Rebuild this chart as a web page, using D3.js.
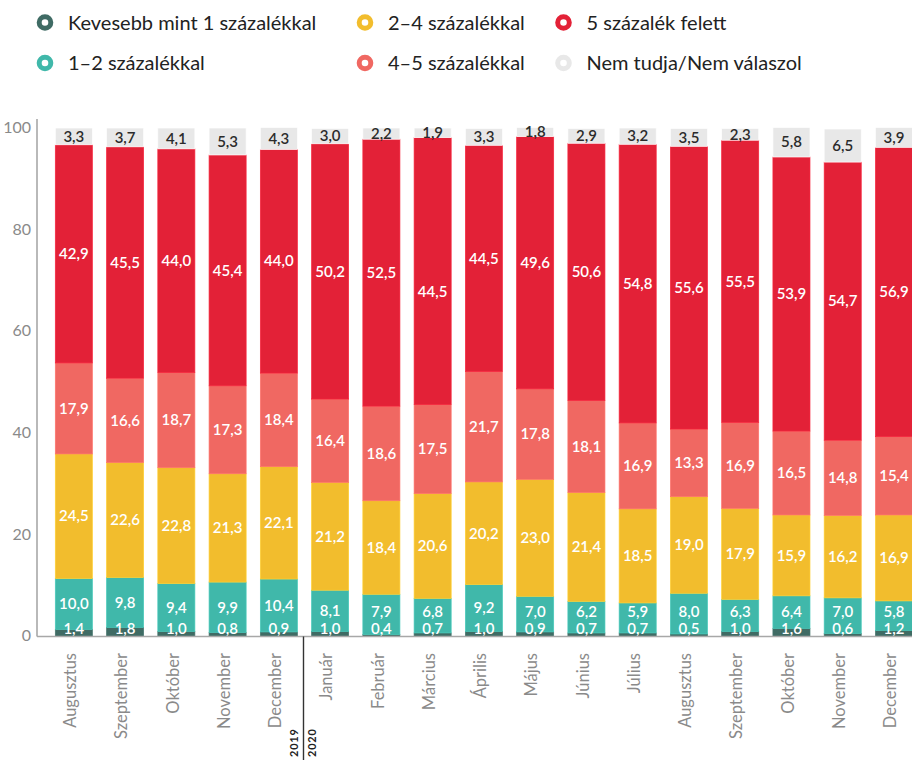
<!DOCTYPE html>
<html>
<head>
<meta charset="utf-8">
<script src="https://cdn.jsdelivr.net/npm/d3@7"></script>
<style>
  body { margin: 0; background: #fff; }
  svg { display: block; font-family: "Lato", "Noto Sans", sans-serif; }
</style>
</head>
<body>
<svg width="912" height="760"></svg>
<script>
// Hónapok (2019 aug - 2020 dec)
var months = ["Augusztus", "Szeptember", "Október", "November", "December",
  "Január", "Február", "Március", "Április", "Május", "Június", "Július",
  "Augusztus", "Szeptember", "Október", "November", "December"];

var seriesNames = ["Kevesebb mint 1 százalékkal", "1–2 százalékkal", "2–4 százalékkal",
  "4–5 százalékkal", "5 százalék felett", "Nem tudja/Nem válaszol"];
var seriesColors = ["#3f6b64", "#40b8aa", "#f2bd2d", "#f06862", "#e32137", "#e8e8e8"];

var lessThan1 = [1.4, 1.8, 1.0, 0.8, 0.9, 1.0, 0.4, 0.7, 1.0, 0.9, 0.7, 0.7, 0.5, 1.0, 1.6, 0.6, 1.2];
var from1to2  = [10.0, 9.8, 9.4, 9.9, 10.4, 8.1, 7.9, 6.8, 9.2, 7.0, 6.2, 5.9, 8.0, 6.3, 6.4, 7.0, 5.8];
var from2to4  = [24.5, 22.6, 22.8, 21.3, 22.1, 21.2, 18.4, 20.6, 20.2, 23.0, 21.4, 18.5, 19.0, 17.9, 15.9, 16.2, 16.9];
var from4to5  = [17.9, 16.6, 18.7, 17.3, 18.4, 16.4, 18.6, 17.5, 21.7, 17.8, 18.1, 16.9, 13.3, 16.9, 16.5, 14.8, 15.4];
var over5     = [42.9, 45.5, 44.0, 45.4, 44.0, 50.2, 52.5, 52.5, 44.5, 49.6, 50.6, 54.8, 55.6, 55.5, 53.9, 54.7, 56.9];
var dontKnow  = [3.3, 3.7, 4.1, 5.3, 4.3, 3.0, 2.2, 1.9, 3.3, 1.8, 2.9, 3.2, 3.5, 2.3, 5.8, 6.5, 3.9];
// az eredeti ábrán a márciusi piros oszlop felirata eltér az oszlop magasságától
var over5Labels = [null, null, null, null, null, null, null, 44.5, null, null, null, null, null, null, null, null, null];

var yTicks = [0, 20, 40, 60, 80, 100];
var years = ["2019", "2020"];

var allSeries = [lessThan1, from1to2, from2to4, from4to5, over5, dontKnow];

var svg = d3.select("svg");
var fmt = function(v) { return d3.format(".1f")(v).replace(".", ","); };

var x = d3.scaleBand()
    .domain(d3.range(months.length))
    .range([55.3, 912.5])
    .paddingInner(0.277)
    .paddingOuter(0);

var y = d3.scaleLinear().domain([0, 100]).range([636.5, 128]);

// Jelmagyarázat
var legendPos = [[45, 22.5], [45, 63], [365, 22.5], [365, 63], [563.5, 22.5], [563.5, 63]];
var legend = svg.append("g");
seriesNames.forEach(function(name, i) {
  var p = legendPos[i];
  legend.append("circle")
    .attr("cx", p[0]).attr("cy", p[1]).attr("r", 5.8)
    .attr("fill", "none")
    .attr("stroke", seriesColors[i])
    .attr("stroke-width", 5);
  legend.append("text")
    .attr("x", p[0] + 23).attr("y", p[1])
    .attr("dy", "0.35em")
    .attr("font-size", 20)
    .attr("fill", "#222")
    .text(name);
});

// Halmozott adatok
var table = months.map(function(m, i) {
  var row = { i: i };
  allSeries.forEach(function(s, k) { row["s" + k] = s[i]; });
  return row;
});
var stack = d3.stack().keys(allSeries.map(function(s, k) { return "s" + k; }));
var stacked = stack(table);

var bars = svg.append("g");
stacked.forEach(function(layer, k) {
  bars.append("g")
    .selectAll("rect")
    .data(layer)
    .join("rect")
      .attr("x", function(d) { return x(d.data.i); })
      .attr("y", function(d) { return y(d[1]); })
      .attr("width", x.bandwidth())
      .attr("height", function(d) { return y(d[0]) - y(d[1]); })
      .attr("fill", seriesColors[k])
      .attr("stroke", d3.color(seriesColors[k]).brighter(0.25))
      .attr("stroke-width", 0.7);
});

// Címkék
var bottomLabelY = y(0) - 7.5;
stacked.forEach(function(layer, k) {
  bars.append("g")
    .selectAll("text")
    .data(layer)
    .join("text")
      .attr("x", function(d) { return x(d.data.i) + x.bandwidth() / 2; })
      .attr("y", function(d) {
        var v = d[1] - d[0];
        if (k === 4 && over5Labels[d.data.i] != null) v = over5Labels[d.data.i];
        var c = y(d[0] + v / 2);
        if (k === 0) c = bottomLabelY;
        if (k === 1) c = Math.min(c, bottomLabelY - 17);
        return c;
      })
      .attr("dy", "0.35em")
      .attr("text-anchor", "middle")
      .attr("font-size", 15)
      .attr("font-weight", 600)
      .attr("fill", k === 5 ? "#2b2b2b" : "#fff")
      .text(function(d) {
        if (k === 4 && over5Labels[d.data.i] != null) return fmt(over5Labels[d.data.i]);
        return fmt(d[1] - d[0]);
      });
});

// Y tengely
svg.append("line")
  .attr("x1", 37).attr("x2", 37)
  .attr("y1", 119).attr("y2", y(0))
  .attr("stroke", "#a8a8a8").attr("stroke-width", 1.6);
svg.append("line")
  .attr("x1", 37).attr("x2", 912)
  .attr("y1", y(0)).attr("y2", y(0))
  .attr("stroke", "#a8a8a8").attr("stroke-width", 1.6);
svg.append("g")
  .selectAll("text")
  .data(yTicks)
  .join("text")
    .attr("x", 31)
    .attr("y", function(d) { return y(d); })
    .attr("dy", "0.3em")
    .attr("text-anchor", "end")
    .attr("font-size", 16)
    .attr("fill", "#8a8a8a")
    .text(function(d) { return d; });

// Hónap feliratok
svg.append("g")
  .selectAll("text")
  .data(months)
  .join("text")
    .attr("transform", function(d, i) {
      return "translate(" + (x(i) + x.bandwidth() / 2 - 3.5) + ",653) rotate(-90)";
    })
    .attr("dy", "0.35em")
    .attr("text-anchor", "end")
    .attr("font-size", 16.5)
    .attr("fill", "#8a8a8a")
    .text(function(d) { return d; });

// Évváltás
var sepX = (x(4) + x.bandwidth() + x(5)) / 2 - 1;
svg.append("line")
  .attr("x1", sepX).attr("x2", sepX)
  .attr("y1", y(0)).attr("y2", 760)
  .attr("stroke", "#333").attr("stroke-width", 1.4);
svg.append("g")
  .selectAll("text")
  .data(years)
  .join("text")
    .attr("transform", function(d, i) {
      return "translate(" + (sepX + (i === 0 ? -9 : 8.5)) + ",757) rotate(-90)";
    })
    .attr("dy", "0.35em")
    .attr("text-anchor", "start")
    .attr("font-size", 11)
    .attr("font-weight", 700)
    .attr("letter-spacing", 0.8)
    .attr("fill", "#222")
    .text(function(d) { return d; });
</script>
</body>
</html>
